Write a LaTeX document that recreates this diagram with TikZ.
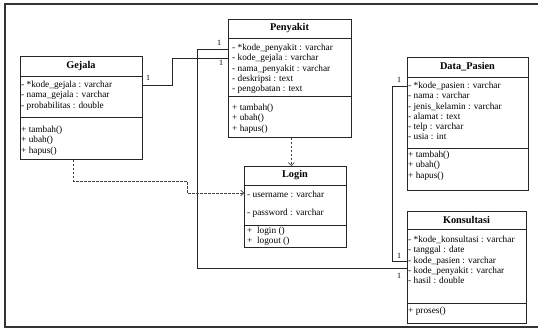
\documentclass[tikz,border=0pt]{standalone}
\usepackage{fontspec}
\setmainfont{Liberation Serif}
\usetikzlibrary{arrows.meta}

\begin{document}
\begin{tikzpicture}
  [x=1pt,y=-1pt,every node/.style={inner sep=0pt},
   classbox/.style={draw=black!85,line width=.8pt,anchor=north west},
   classtitle/.style={font=\fontsize{10.3}{12}\selectfont\bfseries},
   members/.style={anchor=north west,align=left,font=\fontsize{9.3}{10.3}\selectfont,execute at begin node=\strut},
   mult/.style={font=\fontsize{8}{9}\selectfont},
   link/.style={draw=black!85,line width=.8pt},
   dep/.style={draw=black!75,line width=.7pt,dash pattern=on 2.5pt off 1.5pt,-{Straight Barb[length=3pt,width=6pt]}}]
  \useasboundingbox (0,0) rectangle (538,329);
  \draw[line width=1.2pt,black!80] (538,4) -- (5,4) -- (5,327) -- (538,327);

  \node[classbox,minimum width=122,minimum height=103] (gejala) at (20,56) {};
  \node[classbox,minimum width=123,minimum height=118] (penyakit) at (228,19) {};
  \node[classbox,minimum width=102,minimum height=81] (login) at (244,166) {};
  \node[classbox,minimum width=121,minimum height=133] (pasien) at (407,57) {};
  \node[classbox,minimum width=119,minimum height=112] (konsultasi) at (407,211) {};

  \foreach \x/\y/\w in {20/76/122,20/117/122,228/38/123,228/96/123,244/185/102,244/225/102,407/77/121,407/148/121,407/229/119,407/303/119}
    \draw[link] (\x,\y) -- ++(\w,0);

  \node[classtitle] (gejala-t) at (81,66) {Gejala};
  \node[classtitle] (penyakit-t) at (289.5,28.5) {Penyakit};
  \node[classtitle] (login-t) at (295,175.5) {Login};
  \node[classtitle] (pasien-t) at (467.5,67) {Data\_Pasien};
  \node[classtitle] (konsultasi-t) at (466.5,220) {Konsultasi};

  \node[members] (gejala-a) at (21,80.8) {- *kode\_gejala : varchar\\- nama\_gejala : varchar\\- probabilitas : double};
  \node[members] (gejala-m) at (21,125.8) {+ tambah()\\+ ubah()\\+ hapus()};
  \node[members] (penyakit-a) at (232,43.8) {- *kode\_penyakit : varchar\\- kode\_gejala : varchar\\- nama\_penyakit : varchar\\- deskripsi : text\\- pengobatan : text};
  \node[members] (penyakit-m) at (232,103.8) {+ tambah()\\+ ubah()\\+ hapus()};
  \node[members] (login-a) at (247,190.8) {- username : varchar\\[7.7pt]- password : varchar};
  \node[members] (login-m) at (247,226.8) {+~~login ()\\+~~logout ()};
  \node[members] (pasien-a) at (408,81.8) {- *kode\_pasien : varchar\\- nama : varchar\\- jenis\_kelamin : varchar\\- alamat : text\\- telp : varchar\\- usia : int};
  \node[members] (pasien-m) at (408,150.8) {+ tambah()\\+ ubah()\\+ hapus()};
  \node[members] (konsultasi-a) at (408,235.8) {- *kode\_konsultasi : varchar\\- tanggal : date\\- kode\_pasien : varchar\\- kode\_penyakit : varchar\\- hasil : double};
  \node[members] (konsultasi-m) at (408,305.8) {+ proses()};

  \draw[link] ([yshift=-29pt]gejala.north east) -- ++(30,0) |- ([yshift=-39pt]penyakit.north west);
  \draw[link] ([yshift=-30pt]penyakit.north west) -- ++(-31,0) |- ([yshift=-57pt]konsultasi.north west);
  \draw[link] ([yshift=-29pt]pasien.north west) -- ++(-15,0) |- ([yshift=-50pt]konsultasi.north west);

  \draw[dep] ([xshift=1.5pt]penyakit.south) -- ([xshift=1.5pt]penyakit.south |- login.north);
  \draw[dep] ([xshift=-8pt]gejala.south) |- (187,181) |- ([yshift=-27pt]login.north west);

  \node[mult] (m1) at (148,78) {1};
  \node[mult] (m2) at (219,43) {1};
  \node[mult] (m3) at (221,63) {1};
  \node[mult] (m4) at (399,80) {1};
  \node[mult] (m5) at (399,256) {1};
  \node[mult] (m6) at (399,276) {1};
\end{tikzpicture}
\end{document}
